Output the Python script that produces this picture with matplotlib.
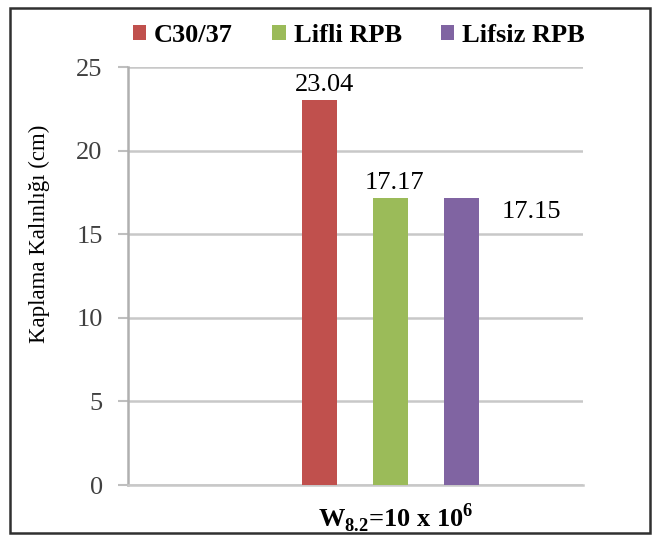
"""
Kaplama kalinligi bar chart (C30/37 vs RPB)
"""

import matplotlib
matplotlib.use("Agg")
import matplotlib.pyplot as plt
from matplotlib.patches import Rectangle

categories = ["C30/37", "Lifli RPB", "Lifsiz RPB"]
values = [23.04, 17.17, 17.15]
colors = ["#C0504D", "#9BBB59", "#8064A2"]
y_ticks = [0, 5, 10, 15, 20, 25]
x_label = r"W$_{\mathbf{8.2}}$=10 x 10$^{\mathbf{6}}$"
y_label = "Kaplama Kalınlığı (cm)"

plt.rcParams["font.family"] = ["Liberation Serif", "DejaVu Serif"]
plt.rcParams["mathtext.fontset"] = "custom"
plt.rcParams["mathtext.rm"] = "Liberation Serif"
plt.rcParams["mathtext.bf"] = "Liberation Serif:bold"

fig = plt.figure(figsize=(6.52, 5.37), dpi=100)
ax = fig.add_axes([128 / 652, 52 / 537, 455 / 652, 418 / 537])

offsets = [-0.156, 0.0, 0.156]
for name, val, col, off in zip(categories, values, colors, offsets):
    ax.bar(off, val, width=0.077, color=col, label=name, zorder=3)

# value labels (the last one sits beside the bar, as in the source)
ax.annotate(f"{values[0]:.2f}", (offsets[0], values[0]), xytext=(4, 3),
            textcoords="offset points", ha="center", va="bottom", fontsize=19)
ax.annotate(f"{values[1]:.2f}", (offsets[1], values[1]), xytext=(3, 3),
            textcoords="offset points", ha="center", va="bottom", fontsize=19)
ax.annotate(f"{values[2]:.2f}", (offsets[2], values[2]), xytext=(29, -10),
            textcoords="offset points", ha="left", va="center", fontsize=19)

ax.set_xlim(-0.576, 0.424)
ax.set_ylim(0, 25)
ax.set_yticks(y_ticks)
ax.tick_params(axis="y", length=7.2, width=1.5, color="#bfbfbf", pad=11,
               labelsize=19, labelcolor="#404040")
ax.set_xticks([0.012])
ax.set_xticklabels([x_label], fontsize=19, fontweight="bold")
ax.tick_params(axis="x", length=0, pad=12)
ax.set_ylabel(y_label, fontsize=16.5)
ax.yaxis.set_label_coords(-0.172, 0.6)

ax.grid(axis="y", color="#c8c8c8", linewidth=1.8, zorder=0)
for s in ["top", "right"]:
    ax.spines[s].set_visible(False)
ax.spines["left"].set_color("#b0b0b0")
ax.spines["left"].set_linewidth(1.8)
ax.spines["bottom"].set_color("#c8c8c8")
ax.spines["bottom"].set_linewidth(1.8)

fig.legend(loc="center", bbox_to_anchor=(359 / 652, 1 - 35 / 537), ncol=3,
           frameon=False, handlelength=0.5, handleheight=0.5,
           handletextpad=0.3, columnspacing=1.5,
           prop={"weight": "bold", "size": 19})

# outer frame
fig.patches.append(Rectangle((10 / 652, 4 / 537), 640 / 652, 525 / 537,
                             transform=fig.transFigure, fill=False,
                             edgecolor="#303030", linewidth=1.8))

fig.savefig("out.png", dpi=100)
